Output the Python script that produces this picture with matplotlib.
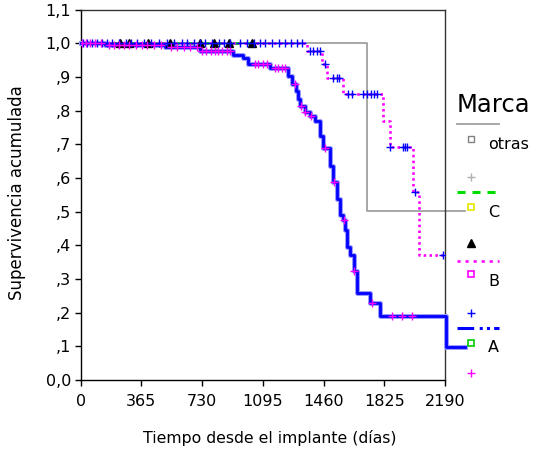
import numpy as np
import matplotlib
matplotlib.use("Agg")
import matplotlib.pyplot as plt
from matplotlib.lines import Line2D

plt.rcParams['font.family'] = ['DejaVu Sans']
plt.rcParams['lines.scale_dashes'] = False

# ---- data (days, cumulative survival) ----
A_times = [0, 146, 507, 718, 916, 976, 1006, 1138, 1246, 1270, 1294, 1306, 1318, 1348, 1378,
           1408, 1438, 1456, 1499, 1517, 1541, 1559, 1577, 1589, 1601, 1619, 1643, 1661, 1739,
           1800, 2196]
A_surv = [1.0, 0.995, 0.988, 0.976, 0.964, 0.955, 0.9375, 0.926, 0.902, 0.878, 0.857, 0.833,
          0.8125, 0.795, 0.783, 0.768, 0.723, 0.69, 0.634, 0.589, 0.536, 0.491, 0.476, 0.446,
          0.396, 0.372, 0.324, 0.259, 0.229, 0.19, 0.098]
A_end = 2310
A_cens = [8, 30, 55, 85, 120, 170, 200, 230, 260, 290, 330, 370, 400, 440, 480, 540, 580, 620,
          660, 700, 730, 755, 785, 805, 825, 850, 880, 900, 1048, 1066, 1096, 1120, 1168, 1186,
          1210, 1228, 1290, 1325, 1350, 1385, 1467, 1525, 1580, 1645, 1750, 1870, 1930, 1990]

B_times = [0, 1361, 1451, 1481, 1577, 1817, 1859, 1998, 2034]
B_surv = [1.0, 0.976, 0.9375, 0.896, 0.848, 0.768, 0.693, 0.557, 0.372]
B_end = 2190
B_cens = [15, 40, 70, 95, 130, 160, 190, 230, 270, 300, 340, 380, 420, 470, 520, 560, 610, 640,
          680, 720, 750, 790, 830, 860, 900, 960, 1000, 1040, 1080, 1110, 1150, 1190, 1230, 1265,
          1300, 1330, 1378, 1396, 1420, 1438, 1468, 1516, 1541, 1553, 1607, 1631, 1697, 1721,
          1745, 1763, 1781, 1862, 1937, 1949, 1961, 2010, 2178]

C_times = [0]
C_surv = [1.0]
C_end = 1029
C_cens = [235, 289, 403, 535, 715, 800, 890, 1029]

O_times = [0, 1721]
O_surv = [1.0, 0.503]
O_end = 2310

x_ticks = [0, 365, 730, 1095, 1460, 1825, 2190]
y_ticks = [0.0, 0.1, 0.2, 0.3, 0.4, 0.5, 0.6, 0.7, 0.8, 0.9, 1.0, 1.1]
y_labels = ["0,0", ",1", ",2", ",3", ",4", ",5", ",6", ",7", ",8", ",9", "1,0", "1,1"]
groups = ["otras", "C", "B", "A"]


def step_xy(times, surv, end):
    return list(times) + [end], list(surv) + [surv[-1]]


def surv_at(times, surv, t):
    idx = np.searchsorted(np.array(times), np.array(t), side='right') - 1
    return np.array(surv)[idx]


W, H = 539, 449
fig = plt.figure(figsize=(W / 100, H / 100), dpi=100)
ax = fig.add_axes([80.7 / W, 1 - 380 / H, (445 - 80.7) / W, (380 - 9.5) / H])

# otras
x, y = step_xy(O_times, O_surv, O_end)
ax.step(x, y, where='post', color='#a0a0a0', lw=1.3, zorder=2, clip_on=False)
# C
x, y = step_xy(C_times, C_surv, C_end)
ax.step(x, y, where='post', color='#00dd00', lw=2, dashes=(5.8, 5), zorder=3)
# B
x, y = step_xy(B_times, B_surv, B_end)
ax.step(x, y, where='post', color='#ff00ff', lw=1.9, dashes=(1.8, 2.4), zorder=4)
# A
x, y = step_xy(A_times, A_surv, A_end)
ax.step(x, y, where='post', color='#9a9aff', lw=3.6, zorder=5, clip_on=False)
ax.step(x, y, where='post', color='#0000ff', lw=2.0, zorder=5.5, clip_on=False)

# censor marks
ax.plot(C_cens, surv_at(C_times, C_surv, C_cens), ls='none', marker='^', color='black',
        ms=5.5, zorder=6)
ax.plot(B_cens, surv_at(B_times, B_surv, B_cens), ls='none', marker='+', color='#0000ff',
        ms=6, mew=1.0, zorder=7)
ax.plot(A_cens, surv_at(A_times, A_surv, A_cens), ls='none', marker='+', color='#ff00ff',
        ms=5.5, mew=1.0, zorder=8)

ax.set_xlim(0, 2190)
ax.set_ylim(0, 1.1)
ax.set_xticks(x_ticks)
ax.set_xticklabels([str(t) for t in x_ticks], fontsize=11.5)
ax.set_yticks(y_ticks)
ax.set_yticklabels(y_labels, fontsize=11.5)
ax.tick_params(direction='out', length=4, width=1, pad=3)
ax.tick_params(axis='x', pad=6)
for s in ax.spines.values():
    s.set_linewidth(1.0)
ax.spines['top'].set_color('#333333')
ax.spines['right'].set_color('#333333')

fig.text(270 / W, 1 - 438 / H, "Tiempo desde el implante (días)", ha='center', va='center',
         fontsize=11.3)
fig.text(17.5 / W, 1 - 193 / H, "Supervivencia acumulada", ha='center', va='center',
         rotation=90, fontsize=12)


# ---- legend (hand-placed like SPSS) ----
def P(px, py):
    return px / W, 1 - py / H


def legline(py, **kw):
    x0, y0 = P(457, py)
    x1, _ = P(499, py)
    fig.add_artist(Line2D([x0, x1], [y0, y0], transform=fig.transFigure, **kw))


def legmark(py, **kw):
    xx, yy = P(471, py)
    fig.add_artist(Line2D([xx], [yy], transform=fig.transFigure, ls='none', **kw))


fig.text(*P(457, 105), "Marca", fontsize=17.5, va='center', ha='left')
legline(124, color='#a0a0a0', lw=1.3)
legmark(139, marker='s', ms=4, mfc='none', mec='#808080', mew=1)
fig.text(*P(488, 144), groups[0], fontsize=11.5, va='center')
legmark(177, marker='+', ms=6, color='#b0b0b0', mew=1)
legline(192, color='#00dd00', lw=2.2, dashes=(5.8, 5))
legmark(207, marker='s', ms=4, mfc='none', mec='#e8e800', mew=1.2)
fig.text(*P(488, 212), groups[1], fontsize=11.5, va='center')
legmark(243, marker='^', ms=5.5, color='black')
legline(261, color='#ff00ff', lw=1.9, dashes=(2.2, 3.6))
legmark(274, marker='s', ms=4, mfc='none', mec='#ff00ff', mew=1.2)
fig.text(*P(488, 281), groups[2], fontsize=11.5, va='center')
legmark(313, marker='+', ms=6, color='#0000ff', mew=1.0)
legline(328, color='#0000ff', lw=2.2, dashes=(12, 4, 2.2, 3, 2.2, 3))
legmark(343, marker='s', ms=4, mfc='none', mec='#00cc00', mew=1.2)
fig.text(*P(488, 348), groups[3], fontsize=11.5, va='center')
legmark(373, marker='+', ms=5.5, color='#ff00ff', mew=1.0)

fig.savefig("out.png", dpi=100)
